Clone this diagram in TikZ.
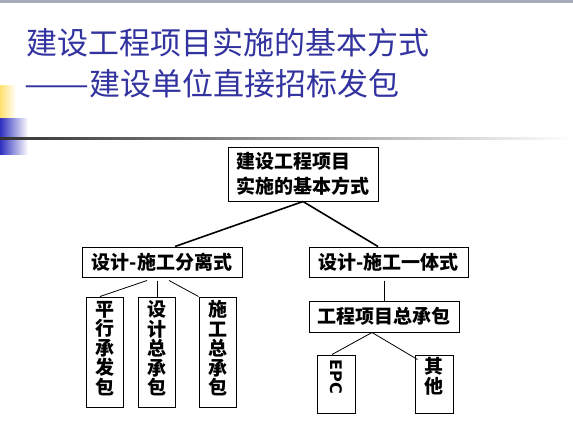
\documentclass[tikz,border=0pt]{standalone}
\usepackage{fontspec}
\usepackage{graphicx}
\setmainfont{Liberation Sans}
\newfontfamily\cjk{Noto Sans CJK SC}
\newfontfamily\epcfont{DejaVu Sans}
\definecolor{titleblue}{RGB}{51,51,160}
\definecolor{topgray}{RGB}{168,171,184}
\definecolor{deco yellow}{RGB}{255,224,110}
\definecolor{deco blue}{RGB}{48,48,192}
\begin{document}
\begin{tikzpicture}[x=1pt,y=-1pt,
  titletext/.style={anchor=base west, inner sep=0, font=\cjk\fontsize{31}{31}\selectfont, text=titleblue},
  box/.style={draw, line width=1pt, inner sep=0, font=\cjk\bfseries\fontsize{19}{25}\selectfont},
  vbox/.style={draw, line width=1pt, inner sep=0, minimum width=37, minimum height=110},
  sbox/.style={draw, line width=1pt, inner sep=0, minimum width=38, minimum height=58},
  vtext/.style={align=center, inner sep=0, font=\cjk\bfseries\fontsize{19}{19.5}\selectfont},
  thickline/.style={line width=1.6pt},
  thinline/.style={line width=0.8pt}]
\useasboundingbox (0,0) rectangle (573,439);
% decorations
\fill[topgray] (0,0) rectangle (573,2.5);
\shade[left color=deco yellow, right color=white] (0,85) rectangle (16,118);
\shade[left color=deco blue, right color=white] (0,118) rectangle (28,154);
\shade[left color=black!80, right color=white] (0,137) rectangle (573,139.5);
% title
\node[titletext] (t1) at (26,54) {建设工程项目实施的基本方式};
\node[titletext] (t2) at (24,95) {\scalebox{1.25}[1]{——}建设单位直接招标发包};
% boxes
\node[box, minimum width=150, minimum height=54, align=left] (root) at (303,174) {建设工程项目\\实施的基本方式};
\node[box, minimum width=160, minimum height=30] (left) at (162,262) {设计-施工分离式};
\node[box, minimum width=159, minimum height=30] (right) at (388.5,262) {设计-施工一体式};
\node[vbox] (p1) at (104.5,352) {};
\node[vbox] (p2) at (156.5,352) {};
\node[vbox] (p3) at (217.5,352) {};
\node[vtext] (p1t) at ([yshift=3.5]p1.center) {平\\行\\承\\发\\包};
\node[vtext] (p2t) at ([yshift=3.5]p2.center) {设\\计\\总\\承\\包};
\node[vtext] (p3t) at ([yshift=3.5]p3.center) {施\\工\\总\\承\\包};
\node[box, minimum width=150, minimum height=31] (gc) at (384,316.5) {工程项目总承包};
\node[sbox] (epc) at (336,384) {};
\node[sbox] (qt) at (434,384) {};
\node[rotate=-90, inner sep=0, font=\epcfont\bfseries\fontsize{16}{16}\selectfont] (epct) at ([yshift=7]epc.center) {EPC};
\node[vtext] (qtt) at ([yshift=7.5]qt.center) {其\\他};
% connectors
\draw[thickline] (root.south) -- ([xshift=13]left.north);
\draw[thickline] (root.south) -- ([xshift=-10.5]right.north);
\draw[thinline] ([xshift=-15,yshift=-3]left.south) -- ([xshift=-4.5]p1.north);
\draw[thinline] ([xshift=-5,yshift=-3]left.south) -- ([xshift=0.5]p2.north);
\draw[thinline] ([xshift=7,yshift=-3]left.south) -- (p3.north west);
\draw[thinline] ([xshift=-4.5,yshift=-3]right.south) -- (gc.north);
\draw[thinline] ([xshift=-12]gc.south) -- ([xshift=-4]epc.north);
\draw[thinline] ([xshift=-12]gc.south) -- ([xshift=3,yshift=-5]qt.north west);
\end{tikzpicture}
\end{document}
